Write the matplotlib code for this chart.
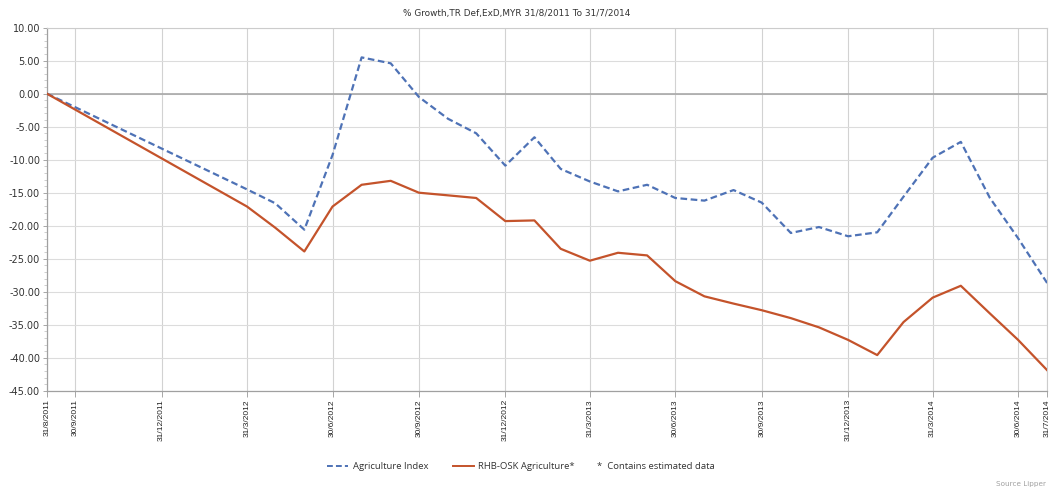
"""Cumulative % growth of the agriculture fund against its index."""

from datetime import date

import matplotlib

matplotlib.use("Agg")
import matplotlib.dates as mdates
import matplotlib.pyplot as plt
from matplotlib.lines import Line2D
from matplotlib.ticker import FixedLocator, FormatStrFormatter, MultipleLocator

# month-end observation dates
dates = [
    date(2011, 8, 31), date(2012, 3, 31), date(2012, 4, 30), date(2012, 5, 31),
    date(2012, 6, 30), date(2012, 7, 31), date(2012, 8, 31), date(2012, 9, 30),
    date(2012, 10, 31), date(2012, 11, 30), date(2012, 12, 31), date(2013, 1, 31),
    date(2013, 2, 28), date(2013, 3, 31), date(2013, 4, 30), date(2013, 5, 31),
    date(2013, 6, 30), date(2013, 7, 31), date(2013, 8, 31), date(2013, 9, 30),
    date(2013, 10, 31), date(2013, 11, 30), date(2013, 12, 31), date(2014, 1, 31),
    date(2014, 2, 28), date(2014, 3, 31), date(2014, 4, 30), date(2014, 5, 31),
    date(2014, 6, 30), date(2014, 7, 31),
]

agri_index = [
    0.0, -14.5, -16.6, -20.6, -9.3, 5.5, 4.6, -0.5, -3.8, -6.0, -10.9, -6.6,
    -11.4, -13.3, -14.8, -13.8, -15.8, -16.2, -14.6, -16.5, -21.1, -20.2,
    -21.6, -21.0, -15.6, -9.7, -7.3, -15.8, -21.9, -28.7,
]

rhb_fund = [
    0.0, -17.1, -20.3, -23.9, -17.1, -13.8, -13.2, -15.0, -15.4, -15.8, -19.3,
    -19.2, -23.5, -25.3, -24.1, -24.5, -28.4, -30.7, -31.8, -32.8, -34.0,
    -35.4, -37.3, -39.6, -34.6, -30.9, -29.1, -33.3, -37.3, -41.9,
]

tick_dates = [
    date(2011, 8, 31), date(2011, 9, 30), date(2011, 12, 31), date(2012, 3, 31),
    date(2012, 6, 30), date(2012, 9, 30), date(2012, 12, 31), date(2013, 3, 31),
    date(2013, 6, 30), date(2013, 9, 30), date(2013, 12, 31), date(2014, 3, 31),
    date(2014, 6, 30), date(2014, 7, 31),
]
tick_labels = [f"{d.day}/{d.month}/{d.year}" for d in tick_dates]

BLUE = "#4e72b6"
ORANGE = "#c4532b"

fig = plt.figure(figsize=(10.49, 4.90), dpi=100)
ax = fig.add_axes([0.0448, 0.2026, 0.9535, 0.7409])

ax.plot(dates, agri_index, color=BLUE, lw=1.6, ls=(0, (3, 1.6)), zorder=3)
ax.plot(dates, rhb_fund, color=ORANGE, lw=1.6, zorder=4)

ax.set_xlim(date(2011, 8, 31), date(2014, 7, 31))
ax.set_ylim(-45, 10)

ax.xaxis.set_major_locator(FixedLocator(mdates.date2num(tick_dates)))
ax.set_xticklabels(tick_labels, rotation=90, fontsize=6.0,
                   family="Liberation Sans", color="#222222")
ax.yaxis.set_major_locator(MultipleLocator(5))
ax.yaxis.set_minor_locator(MultipleLocator(1))
ax.yaxis.set_major_formatter(FormatStrFormatter("%.2f"))
for lbl in ax.get_yticklabels():
    lbl.set_fontsize(7)
    lbl.set_color("#333333")

ax.tick_params(axis="x", length=4, width=0.6, color="#999999", pad=2)
ax.tick_params(axis="y", which="major", length=3, width=0.6, color="#999999", pad=2)
ax.tick_params(axis="y", which="minor", length=2, width=0.5, color="#bbbbbb")

ax.grid(axis="x", color="#d2d2d2", lw=0.8)
ax.grid(axis="y", which="major", color="#dcdcdc", lw=0.8)
ax.axhline(0, color="#a8a8a8", lw=1.2, zorder=2)
ax.set_axisbelow(True)

for side in ("left", "bottom"):
    ax.spines[side].set_color("#a0a0a0")
    ax.spines[side].set_linewidth(0.9)
for side in ("top", "right"):
    ax.spines[side].set_color("#cccccc")
    ax.spines[side].set_linewidth(0.8)

fig.text(0.493, 0.972, "% Growth,TR Def,ExD,MYR 31/8/2011 To 31/7/2014",
         ha="center", va="center", fontsize=6.4, color="#333333")

handles = [
    Line2D([], [], color=BLUE, lw=1.4, ls=(0, (3, 1.6))),
    Line2D([], [], color=ORANGE, lw=1.4),
]
fig.legend(handles, ["Agriculture Index", "RHB-OSK Agriculture*"],
           loc="center", bbox_to_anchor=(0.430, 0.047), ncol=2, frameon=False,
           prop={"family": "Open Sans", "size": 6.8}, handlelength=2.2,
           columnspacing=2.6, handletextpad=0.5)
fig.text(0.569, 0.047, "*  Contains estimated data", ha="left", va="center",
         fontsize=6.8, family="Open Sans", color="#333333")
for t in fig.legends[0].get_texts():
    t.set_color("#333333")

fig.text(0.997, 0.012, "Source Lipper", ha="right", va="center",
         fontsize=5.2, color="#a0a0a0")

fig.savefig("out.png", dpi=100)
